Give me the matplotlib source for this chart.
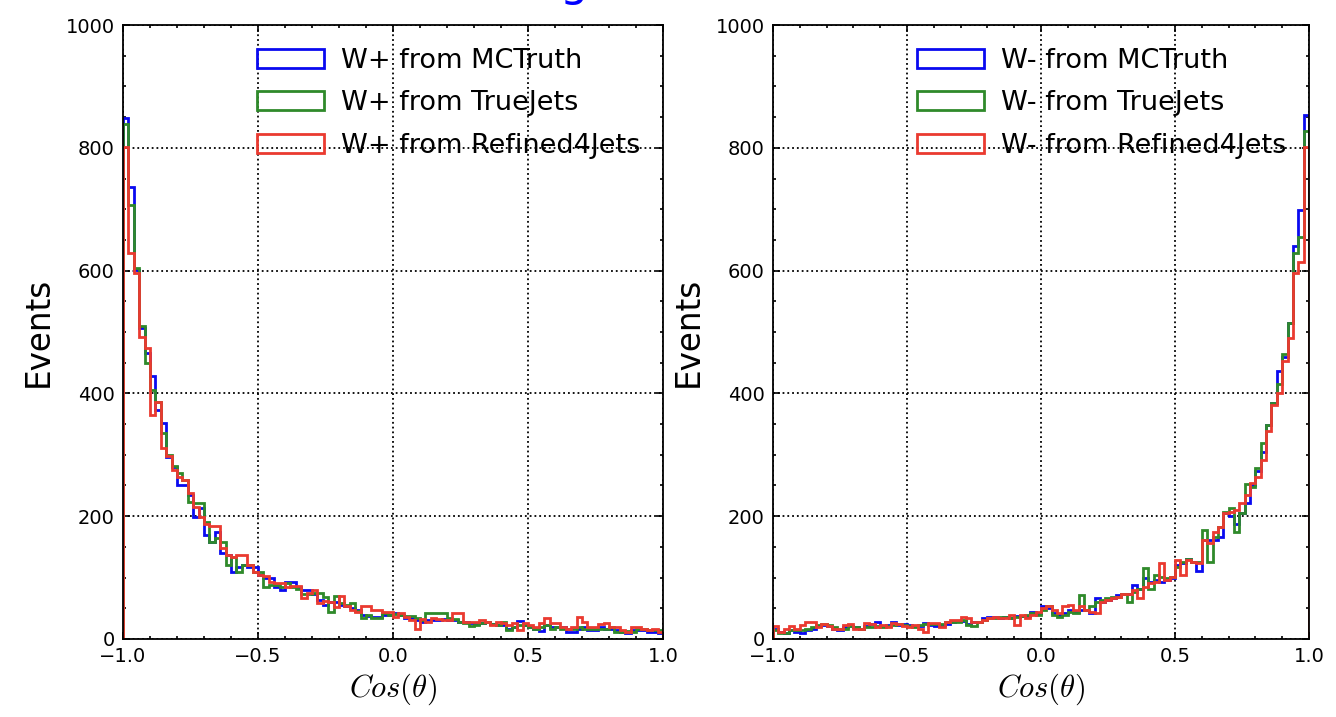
import numpy as np
import matplotlib
matplotlib.use("Agg")
import matplotlib.pyplot as plt

# 100 bins in cos(theta)
edges = np.linspace(-1.0, 1.0, 101)

wp_mctruth = [848, 736, 601, 506, 466, 428, 373, 352, 297, 280,
              251, 251, 235, 199, 213, 169, 158, 175, 140, 137,
              109, 117, 120, 117, 117, 104, 99, 99, 85, 80,
              93, 93, 85, 80, 80, 74, 63, 55, 61, 61,
              55, 53, 50, 47, 39, 37, 36, 36, 39, 39,
              43, 39, 34, 35, 31, 28, 31, 31, 31, 32,
              31, 31, 28, 28, 26, 24, 26, 27, 24, 23,
              23, 17, 19, 30, 23, 19, 16, 13, 23, 20,
              20, 19, 12, 12, 17, 20, 15, 15, 19, 17,
              16, 15, 12, 9, 15, 15, 15, 12, 12, 9]
wp_truejets = [838, 707, 604, 510, 450, 405, 386, 335, 300, 282,
               270, 259, 223, 221, 221, 190, 158, 165, 158, 120,
               134, 109, 120, 120, 109, 109, 85, 88, 88, 85,
               91, 85, 82, 74, 74, 75, 75, 69, 44, 70,
               58, 56, 58, 46, 34, 39, 34, 34, 42, 39,
               41, 39, 37, 37, 34, 31, 42, 43, 43, 42,
               34, 32, 28, 26, 21, 23, 26, 27, 24, 23,
               28, 15, 20, 23, 23, 20, 17, 20, 23, 17,
               20, 17, 17, 16, 19, 17, 16, 16, 17, 16,
               19, 12, 12, 13, 12, 16, 16, 15, 15, 15]
wp_refined = [802, 628, 596, 492, 474, 365, 386, 311, 298, 275,
              264, 259, 238, 215, 199, 187, 184, 184, 148, 137,
              134, 137, 137, 120, 109, 104, 102, 93, 91, 91,
              85, 86, 86, 67, 75, 80, 59, 62, 61, 52,
              70, 53, 47, 44, 53, 53, 47, 47, 44, 44,
              36, 42, 36, 31, 16, 32, 28, 34, 32, 31,
              31, 43, 43, 27, 27, 27, 31, 28, 22, 28,
              26, 23, 26, 15, 26, 23, 20, 26, 34, 26,
              26, 20, 16, 20, 36, 27, 20, 20, 24, 26,
              20, 19, 15, 12, 20, 20, 17, 15, 16, 12]

wm_mctruth = [17, 12, 10, 14, 12, 10, 15, 17, 21, 23,
              21, 17, 15, 19, 21, 20, 16, 21, 24, 27,
              21, 23, 27, 23, 24, 23, 21, 21, 26, 23,
              21, 23, 24, 28, 30, 30, 24, 28, 28, 35,
              36, 36, 35, 36, 34, 37, 37, 38, 44, 42,
              53, 50, 42, 39, 42, 47, 44, 47, 47, 42,
              66, 61, 63, 66, 72, 74, 74, 88, 82, 99,
              93, 96, 93, 96, 99, 120, 123, 131, 126, 110,
              161, 161, 161, 166, 205, 200, 188, 205, 221, 251,
              273, 305, 348, 384, 437, 460, 515, 640, 699, 853]
wm_truejets = [15, 9, 10, 14, 15, 15, 17, 20, 23, 24,
               23, 19, 17, 17, 21, 19, 17, 20, 20, 21,
               20, 21, 23, 24, 23, 21, 20, 23, 24, 24,
               24, 24, 27, 27, 28, 31, 23, 21, 27, 31,
               34, 35, 36, 36, 34, 36, 38, 39, 42, 39,
               47, 54, 39, 36, 39, 44, 42, 72, 47, 53,
               61, 63, 66, 69, 69, 74, 61, 77, 82, 115,
               82, 104, 101, 99, 101, 118, 126, 131, 126, 126,
               177, 126, 166, 183, 207, 213, 175, 205, 253, 248,
               279, 319, 348, 385, 416, 464, 515, 629, 655, 828]
wm_refined = [21, 12, 17, 21, 17, 23, 27, 27, 20, 25,
              21, 17, 16, 23, 24, 17, 17, 26, 24, 19,
              23, 19, 26, 24, 21, 20, 23, 17, 12, 26,
              26, 20, 27, 31, 31, 36, 35, 28, 28, 31,
              34, 36, 35, 35, 39, 22, 39, 34, 39, 44,
              50, 53, 47, 42, 53, 55, 47, 53, 47, 44,
              42, 61, 63, 66, 69, 74, 74, 80, 66, 85,
              91, 93, 124, 96, 101, 129, 104, 129, 126, 123,
              161, 156, 175, 183, 205, 207, 210, 221, 235, 254,
              264, 292, 338, 381, 400, 452, 491, 596, 614, 802]

labels_p = ["W+ from MCTruth", "W+ from TrueJets", "W+ from Refined4Jets"]
labels_m = ["W- from MCTruth", "W- from TrueJets", "W- from Refined4Jets"]
colors = ["#0a0af0", "#2f8a2a", "#ea3a30"]

plt.rcParams["mathtext.fontset"] = "cm"

fig = plt.figure(figsize=(13.36, 7.17), dpi=100)
ax1 = fig.add_axes([0.0921, 0.1088, 0.4042, 0.8563])
ax2 = fig.add_axes([0.5786, 0.1088, 0.4012, 0.8563])

centers = 0.5 * (edges[:-1] + edges[1:])

for ax, series, labels in [(ax1, [wp_mctruth, wp_truejets, wp_refined], labels_p),
                           (ax2, [wm_mctruth, wm_truejets, wm_refined], labels_m)]:
    for vals, lab, c in zip(series, labels, colors):
        ax.hist(centers, bins=edges, weights=vals, histtype="step",
                color=c, linewidth=2, label=lab)
    ax.set_xlim(-1, 1)
    ax.set_ylim(0, 1000)
    ax.set_xticks([-1.0, -0.5, 0.0, 0.5, 1.0])
    ax.set_yticks(np.arange(0, 1001, 200))
    ax.set_xticks(np.arange(-1, 1.01, 0.1), minor=True)
    ax.set_yticks(np.arange(0, 1001, 50), minor=True)
    ax.tick_params(which="both", direction="in", top=True, right=True,
                   labelsize=14, width=1.2, pad=6)
    ax.tick_params(which="major", length=5)
    ax.tick_params(which="minor", length=2.5)
    ax.grid(True, which="major", linestyle=":", color="black", linewidth=1.3)
    for s in ax.spines.values():
        s.set_linewidth(1.3)
    ax.set_xlabel(r"$Cos(\theta)$", fontsize=22, labelpad=4)
    ax.set_ylabel("Events", fontsize=23.5, labelpad=8)
    ax.legend(loc="upper right", frameon=False, fontsize=19.5,
              handlelength=2.5, handletextpad=0.6, borderaxespad=0.45,
              labelspacing=0.6)

# title at the top, cut off in the picture
fig.text(574 / 1336, 1.0 + 4 / 717, "g", ha="center", va="baseline",
         fontsize=32, color="blue")

fig.savefig("out.png", dpi=100)
